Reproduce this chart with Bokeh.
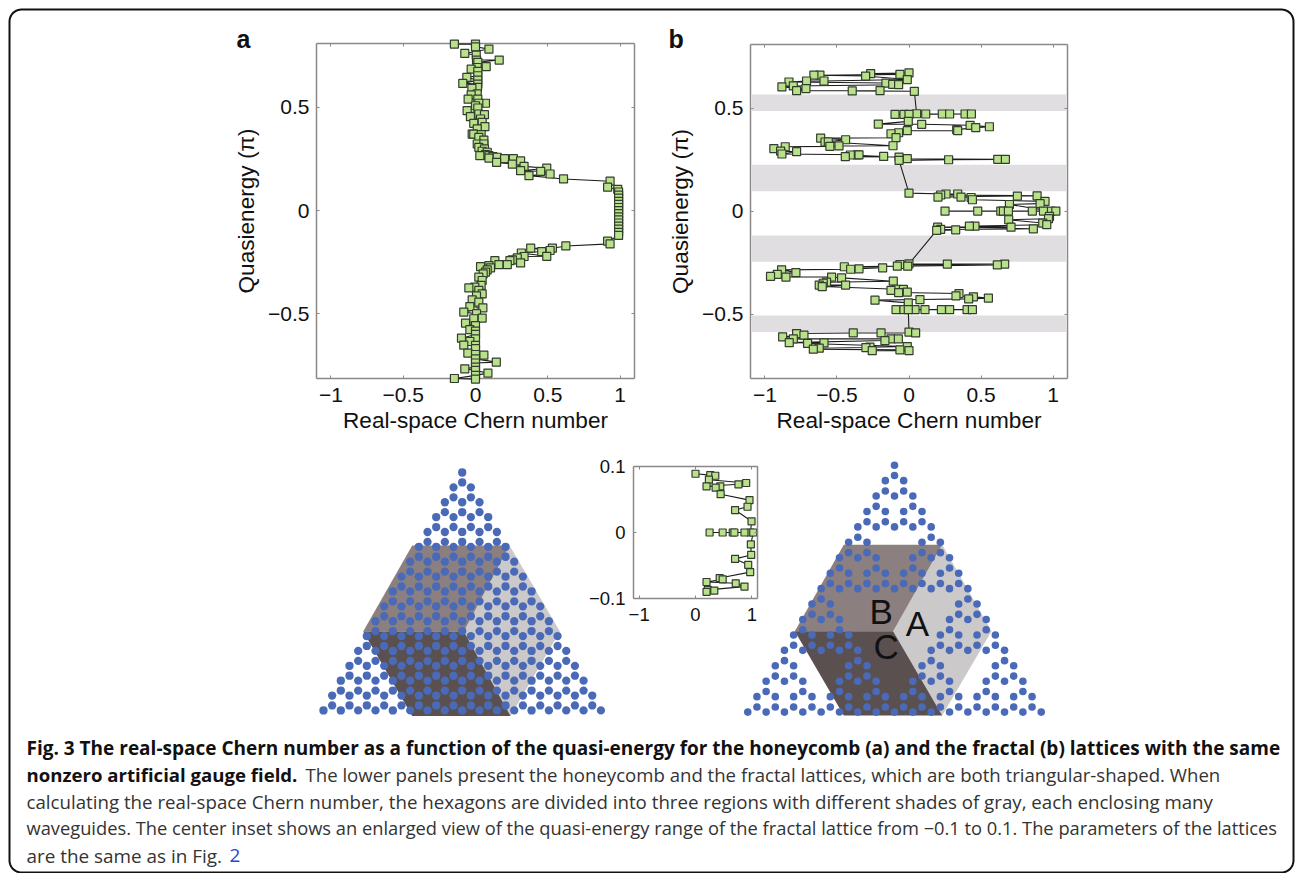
from bokeh.plotting import figure
from bokeh.models import Range1d, LinearAxis, FixedTicker
from bokeh.core.properties import value
from bokeh.core.validation import silence
from bokeh.core.validation.warnings import MISSING_RENDERERS
from bokeh.embed import file_html
from bokeh.resources import INLINE
import numpy as np

silence(MISSING_RENDERERS, True)

# ---------- data: panel a (Chern number, quasi-energy) ----------
a_x = [-0.146,0.000,0.000,0.093,-0.074,0.005,0.007,0.164,0.016,0.074,0.012,-0.030,0.016,-0.060,0.016,0.016,
       -0.088,0.016,0.014,-0.025,-0.030,0.012,-0.051,0.016,0.069,0.023,0.000,0.016,-0.058,0.062,0.023,-0.035,
       0.035,0.046,-0.012,0.065,0.012,-0.023,-0.012,0.039,0.023,0.058,0.012,0.058,0.023,0.062,0.046,0.081,
       0.030,0.069,0.093,0.120,0.150,0.093,0.201,0.262,0.312,0.146,0.255,0.336,0.493,0.312,0.451,0.516,0.370,
       0.609,0.931,0.914,0.984,
       0.99,0.99,0.99,0.99,0.99,0.99,0.99,0.99,0.99,0.99,0.99,0.99,0.99,0.99,0.99,
       0.914,0.931,0.625,0.532,0.516,0.458,0.382,0.493,0.336,0.317,0.289,0.312,0.255,0.238,0.220,0.162,0.134,
       0.093,0.035,0.104,0.069,0.053,0.023,0.081,0.046,-0.046,-0.005,0.039,0.023,0.046,0.007,-0.023,0.023,
       -0.039,0.051,-0.081,0.007,0.046,-0.012,-0.069,0.000,-0.039,0.000,0.000,-0.097,0.000,-0.039,-0.081,0.000,
       0.000,-0.053,0.058,0.000,0.000,0.144,0.000,0.000,-0.074,0.000,0.086,0.000,-0.146,0.000]
a_y = [0.805,0.805,0.792,0.781,0.760,0.752,0.728,0.728,0.717,0.696,0.692,0.684,0.673,0.644,0.652,0.631,
       0.615,0.612,0.596,0.591,0.560,0.564,0.539,0.539,0.519,0.519,0.507,0.496,0.483,0.464,0.467,0.454,
       0.443,0.427,0.422,0.406,0.395,0.370,0.370,0.367,0.354,0.341,0.322,0.322,0.306,0.298,0.287,0.282,
       0.266,0.271,0.266,0.261,0.258,0.254,0.251,0.251,0.240,0.233,0.225,0.214,0.205,0.193,0.190,0.177,0.169,
       0.153,0.142,0.113,0.103,
       0.090,0.075,0.060,0.045,0.030,0.015,0.000,-0.015,-0.030,-0.045,-0.060,-0.075,-0.090,-0.105,-0.120,
       -0.148,-0.161,-0.171,-0.182,-0.193,-0.198,-0.182,-0.221,-0.222,-0.205,-0.229,-0.253,-0.238,-0.242,-0.261,-0.261,-0.242,
       -0.266,-0.271,-0.277,-0.298,-0.306,-0.322,-0.287,-0.338,-0.374,-0.370,-0.362,-0.386,-0.403,-0.412,-0.432,-0.443,
       -0.464,-0.470,-0.491,-0.499,-0.520,-0.523,-0.544,-0.556,-0.576,-0.583,-0.599,-0.617,-0.620,-0.633,-0.651,-0.652,
       -0.668,-0.689,-0.699,-0.696,-0.717,-0.733,-0.737,-0.757,-0.765,-0.773,-0.786,-0.797,-0.812,-0.815]

# ---------- data: panel b ----------
b_x = [0.000,-0.063,-0.266,-0.301,-0.618,-0.660,-0.012,-0.590,-0.711,-0.833,-0.160,-0.113,-0.072,-0.803,-0.882,-0.715,-0.780,-0.394,-0.201,0.037,
       -0.097,-0.035,0.000,0.053,0.116,0.231,0.282,0.389,0.433,-0.005,-0.213,0.088,0.424,0.558,0.463,0.331,0.338,-0.012,-0.072,-0.125,-0.090,
       -0.440,-0.613,-0.583,-0.560,-0.549,-0.486,-0.111,-0.859,-0.938,-0.891,-0.882,-0.780,-0.442,-0.407,-0.359,-0.347,-0.176,-0.069,-0.069,-0.012,0.275,0.616,0.669,
       0.000,0.201,0.220,0.257,0.338,0.361,0.431,0.440,0.752,0.889,0.944,0.910,0.697,
       0.984,0.250,0.477,0.637,0.655,0.690,0.856,0.933,1.019,
       0.975,0.968,0.692,0.928,0.956,0.708,0.863,0.458,0.419,0.324,0.199,0.220,0.192,
       0.000,0.266,0.613,0.664,-0.063,-0.081,-0.009,-0.183,-0.449,-0.347,-0.405,-0.785,-0.884,-0.914,-0.961,-0.854,-0.537,-0.468,-0.109,
       -0.572,-0.595,-0.623,-0.602,-0.440,-0.125,-0.086,-0.039,-0.012,-0.072,0.347,0.326,0.447,0.414,0.551,0.076,-0.236,-0.005,
       -0.090,-0.035,0.042,0.111,0.225,0.282,0.403,0.440,-0.005,
       0.000,0.046,-0.194,-0.387,-0.780,-0.729,-0.877,-0.803,-0.167,-0.125,-0.074,-0.831,-0.704,-0.590,-0.012,-0.299,-0.271,-0.063,0.000,-0.255,-0.664,-0.623]
b_y = [0.670,0.663,0.667,0.655,0.659,0.659,0.638,0.631,0.631,0.626,0.621,0.615,0.613,0.607,0.602,0.594,0.584,0.583,0.584,0.581,
       0.469,0.469,0.469,0.472,0.471,0.471,0.471,0.471,0.471,0.435,0.422,0.421,0.416,0.409,0.405,0.395,0.390,0.390,0.380,0.375,0.356,
       0.346,0.354,0.335,0.335,0.314,0.316,0.317,0.312,0.303,0.291,0.277,0.288,0.264,0.272,0.273,0.273,0.265,0.262,0.246,0.254,0.249,0.251,0.251,
       0.087,0.068,0.078,0.083,0.083,0.068,0.066,0.055,0.073,0.074,0.047,0.036,0.032,
       0.000,0.000,0.000,0.000,0.000,0.000,0.000,0.000,0.000,
       -0.026,-0.037,-0.042,-0.058,-0.066,-0.078,-0.086,-0.073,-0.073,-0.091,-0.078,-0.089,-0.094,
       -0.256,-0.257,-0.261,-0.257,-0.259,-0.267,-0.267,-0.275,-0.270,-0.280,-0.282,-0.298,-0.285,-0.307,-0.317,-0.320,-0.320,-0.324,-0.340,
       -0.345,-0.350,-0.359,-0.366,-0.359,-0.385,-0.379,-0.380,-0.393,-0.395,-0.400,-0.411,-0.416,-0.426,-0.422,-0.429,-0.432,-0.445,
       -0.478,-0.478,-0.478,-0.478,-0.478,-0.478,-0.478,-0.478,-0.478,
       -0.587,-0.591,-0.591,-0.591,-0.594,-0.602,-0.610,-0.620,-0.628,-0.620,-0.620,-0.638,-0.642,-0.639,-0.657,-0.662,-0.660,-0.673,-0.677,-0.677,-0.670,-0.665]
b_band_low  = [0.485, 0.096, -0.246, -0.587]
b_band_high = [0.566, 0.225, -0.118, -0.507]

# ---------- data: inset ----------
i_x = [0.000,0.262,0.351,0.238,0.899,0.762,0.196,0.357,0.440,0.446,0.958,0.923,0.702,0.994,
       0.976,0.250,0.482,0.661,0.690,0.869,1.024,
       0.982,0.988,0.702,0.935,0.970,0.482,0.429,0.196,0.714,0.869,0.333,0.220,0.196]
i_y = [0.089,0.087,0.086,0.080,0.075,0.073,0.070,0.068,0.070,0.058,0.049,0.039,0.034,0.017,
       0.000,0.000,0.000,0.000,0.000,0.000,0.000,
       -0.018,-0.034,-0.040,-0.049,-0.060,-0.071,-0.069,-0.075,-0.077,-0.082,-0.088,-0.087,-0.090]

# ---------- data: lattices (half-steps from the axis; level = zigzag row) ----------
N_ROWS = 17
UPPER_OFFSET = 2 / 3
# fractal lattice, non-negative half-steps (mirrored): (upper row, lower row) per level
fractal_rows = [
    ([0],[0]), ([1],[1]), ([0,2],[2]), ([1,3],[1,3]), ([0,2,4],[4]), ([3,5],[3,5]),
    ([2,4,6],[2,6]), ([1,3,5,7],[1,3,5,7]), ([0,2,4,6,8],[8]), ([7,9],[7,9]),
    ([6,8,10],[6,10]), ([5,7,9,11],[5,7,9,11]), ([4,6,8,10,12],[4,12]),
    ([3,5,11,13],[3,5,11,13]), ([2,4,6,10,12,14],[2,6,10,14]),
    ([1,3,5,7,9,11,13,15],[1,3,5,7,9,11,13,15]), ([0,2,4,6,8,10,12,14,16],[]),
]
hexa_x = {"A":[0.19,5.46,11.27,5.58], "B":[-5.77,5.46,0.19,-11.42], "C":[-11.42,0.19,5.58,-5.77]}
hexa_y = {"A":[10.7,4.91,10.7,16.37], "B":[4.91,4.91,10.7,10.7], "C":[10.7,10.7,16.37,16.37]}
hexb_x = {"A":[-0.15,5.2,10.58,5.2], "B":[-5.53,5.2,-0.15,-10.87], "C":[-10.87,-0.15,5.2,-5.53]}
hexb_y = {"A":[10.76,5.16,10.76,16.22], "B":[5.16,5.16,10.76,10.76], "C":[10.76,10.76,16.22,16.22]}
shade = {"A":"#ccc9ca", "B":"#8b7f7f", "C":"#5a5050"}
DOT = "#4a6ab8"

ticks = [-1,-0.5,0,0.5,1]
tick_names = {-1:"\u22121", -0.5:"\u22120.5", 0:"0", 0.5:"0.5", 1:"1"}
FONT = "Liberation Sans"
BOX = "#8c8887"
FILL = "#b9e08a"
EDGE = "#333d2e"

caption_lines = [
    ("Fig. 3 The real-space Chern number as a function of the quasi-energy for the honeycomb (a) and the fractal (b) lattices with the same", 26, 747, "bold", "#111111", "19px"),
    ("nonzero artificial gauge field.", 26, 774, "bold", "#111111", "18.6px"),
    ("The lower panels present the honeycomb and the fractal lattices, which are both triangular-shaped. When", 305, 774, "normal", "#333333", "18.6px"),
    ("calculating the real-space Chern number, the hexagons are divided into three regions with different shades of gray, each enclosing many", 26, 801, "normal", "#333333", "18.7px"),
    ("waveguides. The center inset shows an enlarged view of the quasi-energy range of the fractal lattice from \u22120.1 to 0.1. The parameters of the lattices", 26, 827, "normal", "#333333", "18.3px"),
    ("are the same as in Fig.", 26, 855, "normal", "#333333", "18.9px"),
    ("2", 229, 855, "normal", "#2a45d0", "18.9px"),
]

W, H = 1295, 873
bg = figure(width=W, height=H, x_range=Range1d(0, W), y_range=Range1d(H, 0), toolbar_location=None,
            output_backend="svg", min_border=0, x_axis_location=None, y_axis_location=None, outline_line_color=None)
bg.grid.visible = False

# rounded border
r = 12; L, R, T, B = 9, 1293, 9, 872
arc = lambda cx, cy, a0: ([cx + r*np.cos(np.radians(t)) for t in np.linspace(a0, a0+90, 10)],
                          [cy + r*np.sin(np.radians(t)) for t in np.linspace(a0, a0+90, 10)])
corners = [arc(L+r, T+r, 180), arc(R-r, T+r, 270), arc(R-r, B-r, 0), arc(L+r, B-r, 90)]
bx = sum((c[0] for c in corners), []) + [corners[0][0][0]]
by = sum((c[1] for c in corners), []) + [corners[0][1][0]]
bg.line(bx, by, line_color="#111111", line_width=2)

for txt, x, y, weight, col, fs in caption_lines:
    bg.text([x], [y], text=[txt], text_font=value("Open Sans"), text_font_size=fs, text_font_style=weight,
            text_color=col, text_baseline="middle", text_align="left")
bg.text([236], [38], text=["a"], text_font=value(FONT), text_font_size="25px", text_font_style="bold",
        text_color="#111111", text_baseline="middle")
bg.text([668], [38], text=["b"], text_font=value(FONT), text_font_size="25px", text_font_style="bold",
        text_color="#111111", text_baseline="middle")

def lattice(name, ox, oy, sx, sy, hx, hy, xs, ys, size):
    bg.extra_x_ranges[name] = Range1d((0-ox)/sx, (W-ox)/sx)
    bg.extra_y_ranges[name] = Range1d((H-oy)/sy, (0-oy)/sy)
    for k in "ABC":
        bg.patch(hx[k], hy[k], fill_color=shade[k], line_color=None, x_range_name=name, y_range_name=name)
    bg.scatter(xs, ys, marker="circle", size=size, fill_color=DOT, line_color=None,
               x_range_name=name, y_range_name=name)

ax_, ay_ = [], []
for k in range(N_ROWS):
    row = list(range(-k, k+1, 2))
    ax_ += row; ay_ += [k]*len(row)
    if k < N_ROWS-1:
        ax_ += row; ay_ += [k+UPPER_OFFSET]*len(row)
fx_, fy_ = [], []
for k, (u, l) in enumerate(fractal_rows):
    for lev, row in ((k, u), (k+UPPER_OFFSET, l)):
        for v in row:
            fx_.append(v); fy_.append(lev)
            if v:
                fx_.append(-v); fy_.append(lev)

lattice("la", 461.7, 472, 8.67, 14.87, hexa_x, hexa_y, ax_, ay_, 8.3)
lattice("lb", 894, 464.7, 9.17, 15.43, hexb_x, hexb_y, fx_, fy_, 7.6)
for t, x, y in (("B", -1.45, 9.45), ("A", 2.5, 10.28), ("C", -0.9, 11.73)):
    bg.text([x], [y], text=[t], text_font=value(FONT), text_font_size="35px", text_color="#111111",
            text_align="center", text_baseline="middle", x_range_name="lb", y_range_name="lb")

def place(p, x, y):
    p.styles = {"position": "absolute", "left": f"{x}px", "top": f"{y}px"}

def add_curve(p, xs, ys, size):
    o = np.argsort(-np.array(ys), kind="stable")
    xx = [xs[i] for i in o]; yy = [ys[i] for i in o]
    p.line(xx, yy, line_color="#1c1c1c", line_width=1.1)
    p.scatter(xx, yy, marker="square", size=size, fill_color=FILL, line_color=EDGE, line_width=1.2)

def chart(fl, ft, fr, fb, xlim, ylim, xticks, yticks, xnames, ynames, tick_px, xlabel=None, ylabel=None):
    ml, mr, mt, mb = 110, 12, 12, 70
    p = figure(frame_width=fr-fl, frame_height=fb-ft, min_border_left=ml, min_border_right=mr, min_border_top=mt,
               min_border_bottom=mb, x_range=Range1d(*xlim), y_range=Range1d(*ylim), toolbar_location=None,
               output_backend="svg", outline_line_color=None, background_fill_alpha=0, border_fill_alpha=0)
    p.grid.visible = False
    p.add_layout(LinearAxis(), "above"); p.add_layout(LinearAxis(), "right")
    for ax in p.xaxis:
        ax.ticker = FixedTicker(ticks=xticks); ax.major_label_overrides = xnames
    for ax in p.yaxis:
        ax.ticker = FixedTicker(ticks=yticks); ax.major_label_overrides = ynames
    for ax in list(p.xaxis) + list(p.yaxis):
        ax.axis_line_color = BOX; ax.axis_line_width = 1.5
        ax.major_tick_line_color = BOX; ax.major_tick_in = 3; ax.major_tick_out = 0
        ax.minor_tick_line_color = None
        ax.major_label_text_font = FONT; ax.major_label_text_font_size = f"{tick_px}px"
        ax.major_label_text_color = "#111111"
        ax.axis_label_text_font = FONT; ax.axis_label_text_font_size = "22.6px"
        ax.axis_label_text_font_style = "normal"; ax.axis_label_text_color = "#111111"
    p.above[0].major_label_text_color = None; p.above[0].major_label_text_font_size = "0px"
    p.right[0].major_label_text_color = None; p.right[0].major_label_text_font_size = "0px"
    p.below[0].major_label_standoff = 9
    p.left[0].major_label_standoff = 7
    if xlabel:
        p.below[0].axis_label = xlabel; p.below[0].axis_label_standoff = 3
    if ylabel:
        p.left[0].axis_label = ylabel; p.left[0].axis_label_standoff = 6
    place(p, fl-ml, ft-mt)
    return p

XLIM, YLIM = (-1.1, 1.1), (-0.812, 0.808)
pa = chart(316, 43, 634, 378, XLIM, YLIM, ticks, ticks[1:-1], tick_names, tick_names, 21,
           "Real-space Chern number", "Quasienergy (\u03c0)")
pb = chart(750, 44, 1067, 378, XLIM, (-0.812, 0.808), ticks, ticks[1:-1], tick_names, tick_names, 21,
           "Real-space Chern number", "Quasienergy (\u03c0)")
pi_ = chart(633, 466, 757, 598, XLIM, (-0.1, 0.1), [-1,0,1], [-0.1,0,0.1], tick_names,
            {-0.1:"\u22120.1", 0:"0", 0.1:"0.1"}, 18.5)
pi_.left[0].major_label_standoff = 8

pb.hbar(y=[(l+h)/2 for l, h in zip(b_band_low, b_band_high)], height=[h-l for l, h in zip(b_band_low, b_band_high)],
        left=-1.09, right=1.09, fill_color="#e0dee0", line_color=None)
add_curve(pb, b_x, b_y, 8)
add_curve(pi_, i_x, i_y, 7)

# panel a marks sit on a slightly larger frame so squares can overlap the box, as in the original
pad = 8
sx, sy = (634-316)/2.2, (378-43)/(0.808+0.812)
pm = figure(frame_width=634-316+2*pad, frame_height=378-43+2*pad, min_border=0, toolbar_location=None,
            x_axis_location=None, y_axis_location=None, output_backend="svg", outline_line_color=None,
            x_range=Range1d(-1.1-pad/sx, 1.1+pad/sx), y_range=Range1d(-0.812-pad/sy, 0.808+pad/sy),
            background_fill_alpha=0, border_fill_alpha=0)
pm.grid.visible = False
add_curve(pm, a_x, a_y, 8)
place(pm, 316-pad, 43-pad)
place(bg, 0, 0)

open("out.html", "w").write(file_html([bg, pa, pb, pi_, pm], INLINE))
